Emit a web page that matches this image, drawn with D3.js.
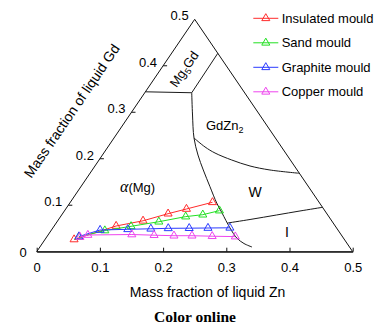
<!DOCTYPE html>
<html>
<head>
<meta charset="utf-8">
<script src="https://cdn.jsdelivr.net/npm/d3@7"></script>
<style>
  html, body { margin: 0; padding: 0; background: #fff; }
  svg { display: block; }
</style>
</head>
<body>
<svg id="chart" width="381" height="328" font-family="Liberation Sans, Arial, sans-serif"></svg>
<script>
// ---- data: points given as [Zn, Gd] mass fractions ----
const tickValues = [0, 0.1, 0.2, 0.3, 0.4, 0.5];
const tickLabels = ["0", "0.1", "0.2", "0.3", "0.4", "0.5"];

const seriesNames = ["Insulated mould", "Sand mould", "Graphite mould", "Copper mould"];
const seriesColors = ["#ff2b2b", "#22e022", "#2b3bff", "#ee44ee"];

const insulated = [[0.046,0.0263],[0.098,0.0553],[0.135,0.0665],[0.167,0.0818],[0.191,0.0919],[0.225,0.1063]];
const sand      = [[0.051,0.0316],[0.085,0.0456],[0.122,0.0546],[0.161,0.0645],[0.198,0.0755],[0.223,0.0796],[0.245,0.0884]];
const graphite  = [[0.0505,0.0327],[0.077,0.0467],[0.120,0.0482],[0.156,0.0493],[0.183,0.0503],[0.216,0.0506],[0.2455,0.051],[0.280,0.0514]];
const copper    = [[0.0527,0.0316],[0.063,0.0359],[0.132,0.037],[0.168,0.0355],[0.200,0.0344],[0.2285,0.0344],[0.261,0.0333],[0.298,0.0325]];
const seriesData = [insulated, sand, graphite, copper];

// phase boundaries (liquidus valleys), [Zn, Gd]
const boundaryMg5GdLow  = [[0,0.344],[0.0743,0.342]];
const boundaryMg5GdHigh = [[0.0743,0.342],[0.0731,0.4269]];
const boundaryAlpha     = [[0.0743,0.342],[0.0995,0.2941],[0.1266,0.2446],[0.1512,0.208],[0.1757,0.1758],[0.2043,0.1398],[0.2324,0.1048],[0.2516,0.0833],[0.2804,0.051],[0.3018,0.0295],[0.3192,0.0176],[0.3356,0.0101]];
const boundaryGdZn2W    = [[0.1266,0.2446],[0.1537,0.2253],[0.176,0.2123],[0.2099,0.1973],[0.2453,0.1844],[0.2812,0.1758],[0.3313,0.1687]];
const boundaryWI        = [[0.2712,0.0617],[0.3029,0.0693],[0.3402,0.079],[0.3728,0.0876],[0.4045,0.0955]];
const boundaries = [boundaryMg5GdLow, boundaryMg5GdHigh, boundaryAlpha, boundaryGdZn2W, boundaryWI];
const triangleCorners = [[0,0],[0,0.5],[0.5,0]];

const SANS = "Liberation Sans, Arial, sans-serif";
const SERIF = "Liberation Serif, Times New Roman, serif";

// ---- scales ----
const svg = d3.select("#chart");
const xs = d3.scaleLinear().domain([0, 0.5]).range([36.7, 352.7]);
const ys = d3.scaleLinear().domain([0, 0.5]).range([251.7, 19.3]);
const P = d => [xs(d[0] + d[1] / 2), ys(d[1])];

const line = d3.line().x(d => P(d)[0]).y(d => P(d)[1]);
const curve = d3.line().x(d => P(d)[0]).y(d => P(d)[1]).curve(d3.curveCatmullRom.alpha(0.5));

// triangle frame
svg.append("path")
  .attr("d", line(triangleCorners) + "Z")
  .attr("fill", "none").attr("stroke", "#111").attr("stroke-width", 1);

// bottom axis
const bottom = svg.append("g").attr("transform", `translate(0,${ys(0)})`)
  .call(d3.axisBottom(xs).tickValues(tickValues)
    .tickFormat((d, i) => tickLabels[i])
    .tickSizeInner(-4).tickSizeOuter(0).tickPadding(11.5));
bottom.attr("font-family", SANS).attr("font-size", 13);
bottom.select(".domain").attr("stroke", "#111");
bottom.selectAll(".tick line").attr("stroke", "#111");
bottom.selectAll("text").attr("fill", "#000");

// left axis ticks & labels (Gd)
const leftG = svg.append("g");
tickValues.forEach((v, i) => {
  const [px, py] = P([0, v]);
  if (v > 0 && v < 0.5) {
    leftG.append("line").attr("x1", px).attr("y1", py).attr("x2", px + 4).attr("y2", py)
      .attr("stroke", "#111");
  }
  const dx = v === 0 ? -10 : -6;
  const dy = v === 0 ? 1 : -3.5;
  leftG.append("text").attr("x", px + dx).attr("y", py + dy).attr("dy", "0.36em")
    .attr("text-anchor", "end").attr("font-size", 13).text(tickLabels[i]);
});

// boundaries
svg.append("g").selectAll("path").data(boundaries).join("path")
  .attr("d", d => d.length > 2 ? curve(d) : line(d))
  .attr("fill", "none").attr("stroke", "#1a1a1a").attr("stroke-width", 1);

// series
const tri = d3.symbol().type(d3.symbolTriangle).size(28);
seriesData.forEach((s, i) => {
  const g = svg.append("g");
  g.append("path").attr("d", line(s)).attr("fill", "none")
    .attr("stroke", seriesColors[i]).attr("stroke-width", 1);
  g.selectAll("path.m").data(s).join("path").attr("class", "m")
    .attr("d", tri).attr("transform", d => `translate(${P(d)[0]},${P(d)[1]})`)
    .attr("fill", "none").attr("stroke", seriesColors[i]).attr("stroke-width", 1);
});

// legend
const leg = svg.append("g");
seriesNames.forEach((n, i) => {
  const cy = 18.3 + i * 24.5;
  leg.append("line").attr("x1", 253.3).attr("x2", 278.3).attr("y1", cy).attr("y2", cy)
    .attr("stroke", seriesColors[i]).attr("stroke-width", 1);
  leg.append("path").attr("d", tri).attr("transform", `translate(265.8,${cy})`)
    .attr("fill", "none").attr("stroke", seriesColors[i]).attr("stroke-width", 1);
  leg.append("text").attr("x", 281.7).attr("y", cy).attr("dy", "0.36em")
    .attr("font-size", 13).text(n);
});

// region labels
const mg = svg.append("text").attr("transform", "translate(184,69) rotate(-55.7)")
  .attr("text-anchor", "middle").attr("dy", "0.36em").attr("font-size", 13);
mg.append("tspan").text("Mg");
mg.append("tspan").attr("font-size", 9).attr("dy", 3).text("5");
mg.append("tspan").attr("dy", -3).text("Gd");

const gz = svg.append("text").attr("x", 206).attr("y", 125).attr("dy", "0.36em").attr("font-size", 13);
gz.append("tspan").text("GdZn");
gz.append("tspan").attr("font-size", 9).attr("dy", 3).text("2");

svg.append("text").attr("x", 255).attr("y", 192).attr("dy", "0.36em")
  .attr("text-anchor", "middle").attr("font-size", 14).text("W");
svg.append("text").attr("x", 287).attr("y", 232).attr("dy", "0.36em")
  .attr("text-anchor", "middle").attr("font-size", 14).text("I");

const am = svg.append("text").attr("x", 120).attr("y", 187).attr("dy", "0.36em").attr("font-size", 13);
am.append("tspan").attr("font-family", SERIF)
  .attr("font-style", "italic").attr("font-size", 16).text("α");
am.append("tspan").text("(Mg)");

// axis titles
svg.append("text").attr("x", 207.5).attr("y", 292).attr("dy", "0.36em")
  .attr("text-anchor", "middle").attr("font-size", 14).text("Mass fraction of liquid Zn");
svg.append("text").attr("transform", "translate(71.7,110.8) rotate(-55.7)")
  .attr("text-anchor", "middle").attr("dy", "0.36em").attr("font-size", 14)
  .text("Mass fraction of liquid Gd");

svg.append("text").attr("x", 195).attr("y", 316.7).attr("dy", "0.34em")
  .attr("text-anchor", "middle").attr("font-size", 15.5).attr("font-weight", "bold")
  .attr("font-family", SERIF).text("Color online");
</script>
</body>
</html>
